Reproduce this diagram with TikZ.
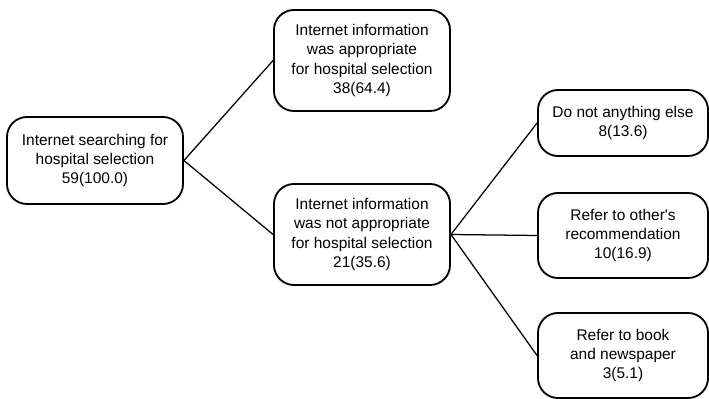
\documentclass[tikz,border=0pt]{standalone}
\usepackage{fontspec}
\setmainfont{Liberation Sans}[Ligatures=TeXOff]
\begin{document}
\begin{tikzpicture}[x=0.025cm, y=0.025cm,
 box/.style={shape=rectangle, rounded corners=0.5cm, draw, line width=1.3pt, align=center, inner sep=2pt, font=\fontsize{11}{13.6}\selectfont},
 wide/.style={box, minimum width=4.4cm},
 narrow/.style={box, minimum width=4.25cm},
 link/.style={line width=0.9pt},
]
\useasboundingbox (0,0) rectangle (709,399);

%root
\node (root) at (95,238.5) [wide, minimum height=2.175cm] {Internet searching for\\hospital selection\\59(100.0)};

%first level
\node (yes) at (362,338.5) [wide, minimum height=2.525cm] {Internet information\\was appropriate\\for hospital selection\\38(64.4)};
\node (no) at (362,164.5) [wide, minimum height=2.525cm] {Internet information\\was not appropriate\\for hospital selection\\21(35.6)};

%second level
\node (nothing) at (623,276) [narrow, minimum height=1.65cm] {Do not anything else\\8(13.6)};
\node (other) at (623,163.5) [narrow, minimum height=2.125cm] {Refer to other's\\recommendation\\10(16.9)};
\node (book) at (623,43.5) [narrow, minimum height=2.125cm] {Refer to book\\and newspaper\\3(5.1)};

\draw[link] (root.east) -- (yes.west);
\draw[link] (root.east) -- (no.west);
\draw[link] (no.east) -- (nothing.west);
\draw[link] (no.east) -- (other.west);
\draw[link] (no.east) -- (book.west);

\end{tikzpicture}
\end{document}
